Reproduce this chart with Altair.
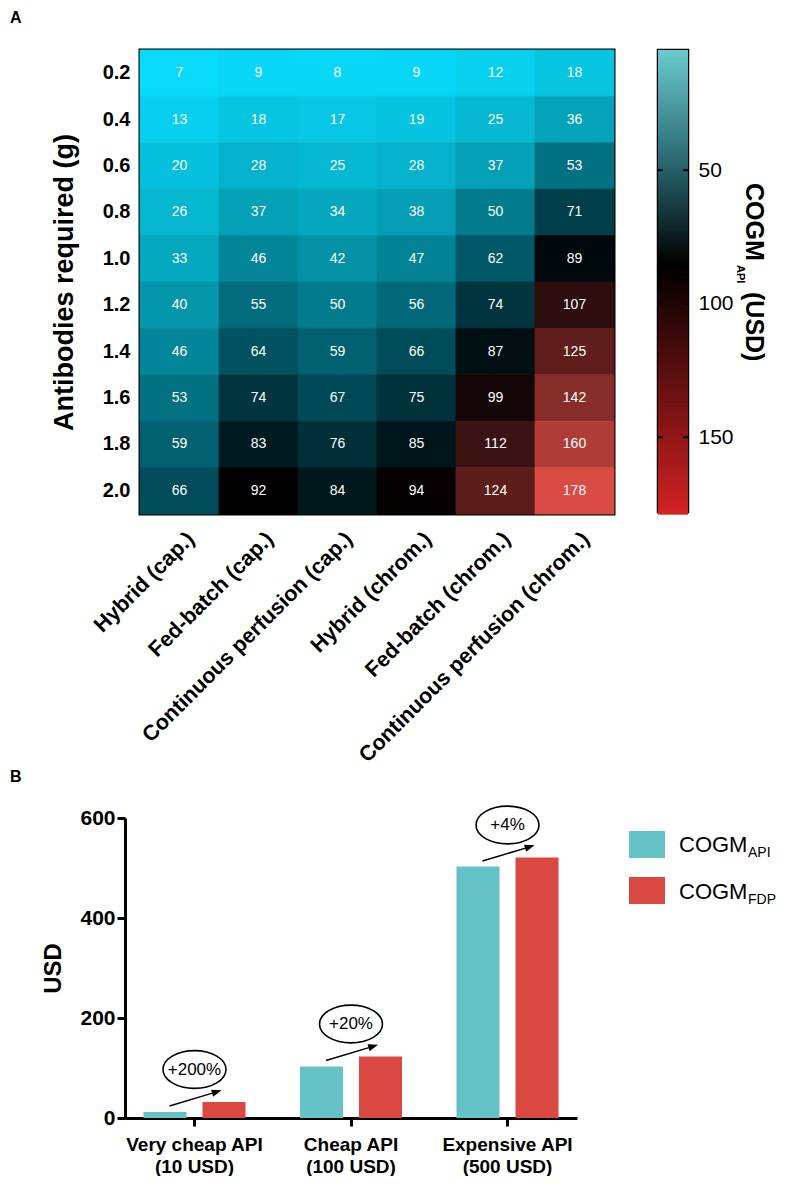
import altair as alt
import pandas as pd

FONT = "Liberation Sans"

# ---------------- Panel A data ----------------
processes = ["Hybrid (cap.)", "Fed-batch (cap.)", "Continuous perfusion (cap.)",
             "Hybrid (chrom.)", "Fed-batch (chrom.)", "Continuous perfusion (chrom.)"]
amounts = ["0.2", "0.4", "0.6", "0.8", "1.0", "1.2", "1.4", "1.6", "1.8", "2.0"]
row_02 = [7, 9, 8, 9, 12, 18]
row_04 = [13, 18, 17, 19, 25, 36]
row_06 = [20, 28, 25, 28, 37, 53]
row_08 = [26, 37, 34, 38, 50, 71]
row_10 = [33, 46, 42, 47, 62, 89]
row_12 = [40, 55, 50, 56, 74, 107]
row_14 = [46, 64, 59, 66, 87, 125]
row_16 = [53, 74, 67, 75, 99, 142]
row_18 = [59, 83, 76, 85, 112, 160]
row_20 = [66, 92, 84, 94, 124, 178]
cogm_rows = [row_02, row_04, row_06, row_08, row_10, row_12, row_14, row_16, row_18, row_20]
colorbar_ticks = [50, 100, 150]
colorbar_domain = [5, 178]

# ---------------- Panel B data ----------------
categories = ["Very cheap API (10 USD)", "Cheap API (100 USD)", "Expensive API (500 USD)"]
series = ["COGM_API", "COGM_FDP"]
series_main = ["COGM", "COGM"]
series_sub = ["API", "FDP"]
api_values = [12, 103, 503]
fdp_values = [32, 123, 521]
increase_labels = ["+200%", "+20%", "+4%"]
y_ticks = [0, 200, 400, 600]

heat_df = pd.DataFrame([
    {"process": p, "amount": a, "cogm": v}
    for a, row in zip(amounts, cogm_rows) for p, v in zip(processes, row)
])
bar_df = pd.DataFrame(
    [{"cat": c, "series": series[0], "value": v} for c, v in zip(categories, api_values)]
    + [{"cat": c, "series": series[1], "value": v} for c, v in zip(categories, fdp_values)]
)
ann_df = pd.DataFrame({"cat": categories, "api": api_values, "fdp": fdp_values, "label": increase_labels})
leg_df = pd.DataFrame({"series": series, "main": series_main, "sub": series_sub})
tick_df = pd.DataFrame({"t": colorbar_ticks})

blank = alt.Data(values=[{}])

# ---------------- Panel A: heatmap ----------------
cell_scale = alt.Scale(
    domain=[7, 36, 71, 92, 125, 178],
    range=["#08DAFA", "#04A3B9", "#003E4A", "#000000", "#5F1E1C", "#DA4B44"],
    interpolate="rgb",
)
hx = alt.X("process:N", sort=processes, axis=alt.Axis(
    title=None, labelAngle=-45, labelAlign="right", labelBaseline="top",
    labelFontSize=21.5, labelFontWeight="bold", labelPadding=14, labelOffset=4,
    ticks=False, domain=False, labelLimit=400, labelColor="black"))
hy = alt.Y("amount:O", sort=amounts, axis=alt.Axis(
    title="Antibodies required (g)", titleFontSize=27, titleFontWeight="bold",
    titlePadding=24, labelFontSize=20, labelFontWeight="bold", labelPadding=10,
    ticks=False, domain=False, labelColor="black", titleColor="black"))

rects = alt.Chart(heat_df).mark_rect(strokeWidth=0.8).encode(
    x=hx, y=hy,
    color=alt.Color("cogm:Q", scale=cell_scale, legend=None),
    stroke=alt.Stroke("cogm:Q", scale=cell_scale, legend=None))
cell_text = alt.Chart(heat_df).mark_text(color="white", fontSize=14, font=FONT).encode(
    x=alt.X("process:N", sort=processes), y=alt.Y("amount:O", sort=amounts), text="cogm:Q")
letter_a = alt.Chart(blank).mark_text(text="A", fontSize=16, fontWeight="bold", align="left",
                                      baseline="alphabetic", font=FONT).encode(
    x=alt.value(-130), y=alt.value(-27))

heat = alt.layer(rects, cell_text, letter_a).properties(
    width=474, height=464, view=alt.ViewBackground(stroke="black", strokeWidth=3))

# ---------------- Panel A: colour bar ----------------
bar_scale = alt.Scale(domain=[5, 50, 85, 178],
                      range=["#6ACACD", "#25606A", "#000000", "#D22222"], interpolate="rgb")
cb_scale = alt.Scale(domain=colorbar_domain, reverse=True, nice=False, zero=False)
cb_axis = alt.Axis(orient="right", values=colorbar_ticks, title=None, ticks=False,
                   domain=False, grid=False, labelFontSize=21, labelPadding=10,
                   labelColor="black", labelFontWeight="normal")
cb_rects = alt.Chart(alt.sequence(5, 178.5, 0.5, as_="v")).transform_calculate(
    v2="datum.v + 1").mark_rect().encode(
    y=alt.Y("v:Q", scale=cb_scale, axis=cb_axis), y2="v2:Q", x=alt.value(0), x2=alt.value(30),
    color=alt.Color("v:Q", scale=bar_scale, legend=None))
cb_ticks_l = alt.Chart(tick_df).mark_rule(color="black", strokeWidth=2).encode(
    y=alt.Y("t:Q", scale=cb_scale, axis=cb_axis), x=alt.value(0), x2=alt.value(5))
cb_ticks_r = alt.Chart(tick_df).mark_rule(color="black", strokeWidth=2).encode(
    y=alt.Y("t:Q", scale=cb_scale, axis=cb_axis), x=alt.value(25), x2=alt.value(30))
t_cogm = alt.Chart(blank).mark_text(text="COGM", fontSize=25, fontWeight="bold", angle=90,
                                    align="left", baseline="alphabetic", font=FONT).encode(
    x=alt.value(88), y=alt.value(133))
t_api = alt.Chart(blank).mark_text(text="API", fontSize=11, fontWeight="bold", angle=90,
                                   align="left", baseline="alphabetic", font=FONT).encode(
    x=alt.value(79), y=alt.value(215))
t_usd = alt.Chart(blank).mark_text(text="(USD)", fontSize=25, fontWeight="bold", angle=90,
                                   align="left", baseline="alphabetic", font=FONT).encode(
    x=alt.value(88), y=alt.value(242))
colorbar = alt.layer(cb_rects, cb_ticks_l, cb_ticks_r, t_cogm, t_api, t_usd).properties(
    width=30, height=462, view=alt.ViewBackground(stroke="black", strokeWidth=2.5))

# ---------------- Panel B: bars ----------------
bar_colors = alt.Scale(domain=series, range=["#65C3C8", "#D94841"])
label_expr = ("[slice(datum.label, 0, indexof(datum.label, ' (')), "
              "slice(datum.label, indexof(datum.label, ' (') + 1)]")
bx = alt.X("cat:N", sort=categories,
           scale=alt.Scale(paddingInner=0.348, paddingOuter=0.118, range=[-15, 437]),
           axis=alt.Axis(title=None, labelAngle=0, labelExpr=label_expr, labelFontSize=19,
                         labelFontWeight="bold", labelPadding=9, labelLineHeight=22,
                         tickSize=8, tickWidth=3, tickColor="black", domainWidth=3,
                         domainColor="black", labelColor="black"))
by = alt.Y("value:Q", scale=alt.Scale(domain=[0, 600]),
           axis=alt.Axis(values=y_ticks, title="USD", titleFontSize=24, titleFontWeight="bold",
                         titlePadding=14, labelFontSize=21, labelFontWeight="bold",
                         labelPadding=2, tickSize=8, tickWidth=3, tickColor="black",
                         domainWidth=3, domainColor="black", grid=False, offset=15,
                         labelColor="black", titleColor="black"))

bars = alt.Chart(bar_df).mark_bar().encode(
    x=bx, y=by,
    xOffset=alt.XOffset("series:N", sort=series, scale=alt.Scale(paddingInner=0.271, paddingOuter=0)),
    color=alt.Color("series:N", scale=bar_colors, legend=None),
)

ELLIPSE = ("M-1,0C-1,-0.331,-0.552,-0.6,0,-0.6C0.552,-0.6,1,-0.331,1,0"
           "C1,0.331,0.552,0.6,0,0.6C-0.552,0.6,-1,0.331,-1,0Z")
ARROW = "M-1,0.3L0.75,-0.225M1,-0.3L0.761,-0.124L0.703,-0.316Z"

ann_base = alt.Chart(ann_df).transform_calculate(
    ell_y="datum.fdp + 65", arr_y="(datum.api + datum.fdp) / 2 + 17")
ax_ = alt.X("cat:N", sort=categories, title=None)
ellipses = ann_base.mark_point(shape=ELLIPSE, size=3969, filled=False, stroke="black",
                               strokeWidth=1.6, opacity=1).encode(
    x=ax_, y=alt.Y("ell_y:Q", title="USD"))
ell_text = ann_base.mark_text(fontSize=17, font=FONT, color="black").encode(
    x=ax_, y=alt.Y("ell_y:Q", title="USD"), text="label:N")
arrows = ann_base.mark_point(shape=ARROW, size=2500, filled=True, fill="black", stroke="black",
                             strokeWidth=1.5, opacity=1).encode(
    x=ax_, y=alt.Y("arr_y:Q", title="USD"))
letter_b = alt.Chart(blank).mark_text(text="B", fontSize=16, fontWeight="bold", align="left",
                                      baseline="alphabetic", font=FONT).encode(
    x=alt.value(-130), y=alt.value(-36))

bar_layer = alt.layer(bars, ellipses, ell_text, arrows, letter_b).properties(width=437, height=300)

ly = alt.Y("series:N", sort=series, scale=alt.Scale(paddingInner=0.41, paddingOuter=0.28), axis=None)
swatches = alt.Chart(leg_df).mark_rect().encode(
    y=ly, x=alt.value(0), x2=alt.value(36),
    color=alt.Color("series:N", scale=bar_colors, legend=None))
leg_main = alt.Chart(leg_df).mark_text(fontSize=22, font=FONT, align="left", baseline="alphabetic",
                                       dy=8, color="black").encode(
    y=ly, x=alt.value(50), text="main:N")
leg_sub = alt.Chart(leg_df).mark_text(fontSize=14, font=FONT, align="left", baseline="alphabetic",
                                      dy=13, color="black").encode(
    y=ly, x=alt.value(119), text="sub:N")
legend_chart = alt.layer(swatches, leg_main, leg_sub).properties(width=110, height=99)

top = alt.hconcat(heat, colorbar, spacing=39).resolve_scale(color="independent", stroke="independent")
bottom = alt.hconcat(bar_layer, legend_chart, spacing=37)

chart = alt.vconcat(top, bottom, spacing=1).resolve_scale(color="independent").properties(
    padding=0).configure(font=FONT).configure_view(stroke=None).configure_axis(
    labelFont=FONT, titleFont=FONT)

chart.save("out.html", embed_options={"renderer": "svg", "actions": False})
